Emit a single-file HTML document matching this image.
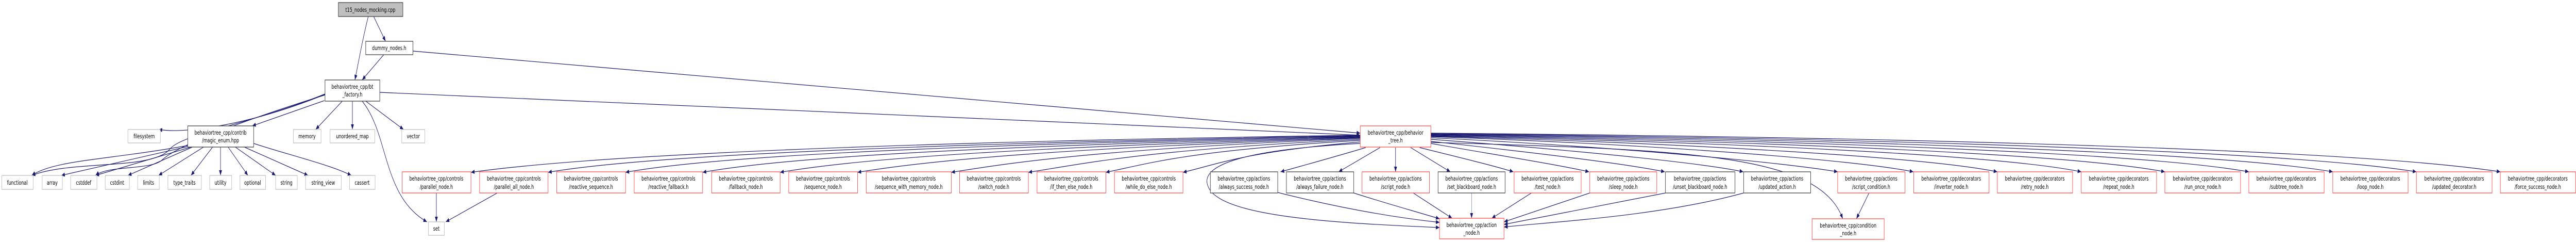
<!DOCTYPE html>
<html><head><meta charset="utf-8"><style>
html,body{margin:0;padding:0;background:#fff;width:100%;height:100%;overflow:hidden;}
svg{display:block;width:100vw;height:100vh;}
text{font-family:"DejaVu Sans","Liberation Sans",sans-serif;font-size:11.5px;fill:#000;text-anchor:middle;}
.e{fill:none;stroke:#191970;stroke-width:1.2;}
.r{fill:#fff;stroke:#ff4d4d;stroke-width:1.3;}
.b{fill:#fff;stroke:#404040;stroke-width:1.3;}
.g{fill:#fff;stroke:#bfbfbf;stroke-width:1.3;}
</style></head><body>
<svg viewBox="0 0 7149 469" preserveAspectRatio="none" xmlns="http://www.w3.org/2000/svg">
<defs><marker id="a" markerUnits="userSpaceOnUse" markerWidth="10" markerHeight="8" refX="10" refY="4" orient="auto"><path d="M0,0 L10,4 L0,8z" fill="#191970"/></marker></defs>
<g marker-end="url(#a)">
<path class="e" d="M1037,32 L1070,80"/>
<path class="e" d="M1022,32 C1005,80 995,120 985,155"/>
<path class="e" d="M1065,106 L1005,155"/>
<path class="e" d="M1146,99 L3775,258"/>
<path class="e" d="M1054,179 L3775,262"/>
<path class="e" d="M902,183 C700,240 520,260 440,251"/>
<path class="e" d="M900,195 L700,244"/>
<path class="e" d="M950,196 L876,251"/>
<path class="e" d="M978,196 L978,251"/>
<path class="e" d="M1015,196 L1120,251"/>
<path class="e" d="M1005,196 C1080,260 1060,380 1185,430"/>
<path class="e" d="M902,182 C700,240 500,260 470,290 C420,330 200,310 88,340"/>
<path class="e" d="M902,184 C600,250 480,290 450,310 C420,330 300,320 265,340"/>
<path class="e" d="M521,282 C300,310 150,310 88,340"/>
<path class="e" d="M521,284 L170,340"/>
<path class="e" d="M530,285 L265,340"/>
<path class="e" d="M534,285 L355,340"/>
<path class="e" d="M565,285 L440,340"/>
<path class="e" d="M590,285 L530,340"/>
<path class="e" d="M612,285 L612,340"/>
<path class="e" d="M633,285 L688,340"/>
<path class="e" d="M653,285 L765,340"/>
<path class="e" d="M678,285 L855,340"/>
<path class="e" d="M704,278 C800,300 920,320 975,340"/>
<path class="e" d="M1211,374 L1211,430"/>
<path class="e" d="M1380,374 L1237,430"/>
<path class="e" d="M3775,262 C2500,275 1650,300 1307,334"/>
<path class="e" d="M3775,263 C2600,278 1800,300 1521,334"/>
<path class="e" d="M3775,264 C2700,280 2000,300 1736,334"/>
<path class="e" d="M3775,265 C2800,282 2200,302 1950,334"/>
<path class="e" d="M3775,266 C2900,284 2400,305 2165,334"/>
<path class="e" d="M3775,267 C3000,286 2600,308 2380,334"/>
<path class="e" d="M3775,268 C3100,288 2850,310 2640,334"/>
<path class="e" d="M3775,270 C3200,290 3050,312 2854,334"/>
<path class="e" d="M3775,272 C3300,292 3200,315 3069,334"/>
<path class="e" d="M3775,275 C3450,295 3380,318 3283,334"/>
<path class="e" d="M3790,286 C3700,305 3620,320 3554,333"/>
<path class="e" d="M3830,286 L3715,333"/>
<path class="e" d="M3873,286 L3873,333"/>
<path class="e" d="M3915,286 L4025,333"/>
<path class="e" d="M3940,286 C4050,305 4150,322 4200,333"/>
<path class="e" d="M3971,278 C4150,300 4330,320 4410,333"/>
<path class="e" d="M3971,274 C4250,295 4520,318 4620,333"/>
<path class="e" d="M3971,270 C4350,290 4720,315 4838,333"/>
<path class="e" d="M3971,267 C4500,285 4950,315 5100,333"/>
<path class="e" d="M3971,265 C4600,280 5150,310 5310,333"/>
<path class="e" d="M3971,264 C4700,278 5350,305 5543,333"/>
<path class="e" d="M3971,263 C4800,276 5550,300 5776,333"/>
<path class="e" d="M3971,262 C4900,274 5750,298 6008,333"/>
<path class="e" d="M3971,261 C5000,272 5950,296 6241,333"/>
<path class="e" d="M3971,260 C5100,270 6150,294 6474,333"/>
<path class="e" d="M3971,259 C5200,268 6350,292 6706,333"/>
<path class="e" d="M3971,258 C5300,266 6550,290 6939,333"/>
<path class="e" d="M3971,276 C4700,290 5050,300 5114,424"/>
<path class="e" d="M3775,278 C3450,290 3330,320 3352,360 C3380,420 3700,432 3995,441"/>
<path class="e" d="M3546,373 C3700,400 3850,420 3995,431"/>
<path class="e" d="M3757,374 C3850,395 3930,410 3995,424"/>
<path class="e" d="M3922,374 L4030,423"/>
<path class="e" d="M4084,374 L4084,423" style="stroke-width:0.6"/>
<path class="e" d="M4250,374 L4140,423"/>
<path class="e" d="M4412,374 L4174,430"/>
<path class="e" d="M4622,374 L4174,435"/>
<path class="e" d="M4839,374 C4600,420 4300,430 4174,440"/>
<path class="e" d="M5187,374 L5152,424"/>
</g>
<rect x="939" y="5" width="179" height="27" fill="#bfbfbf" stroke="#404040" stroke-width="1.3"/><text x="1028" y="23">t15_nodes_mocking.cpp</text>
<rect class="b" x="1015" y="80" width="131" height="26"/><text x="1080" y="97">dummy_nodes.h</text>
<rect class="b" x="902" y="155" width="152" height="41"/><text x="978" y="172">behaviortree_cpp/bt</text><text x="978" y="187">_factory.h</text>
<rect class="g" x="355" y="251" width="90" height="26"/><text x="400" y="268">filesystem</text>
<rect class="b" x="521" y="244" width="183" height="41"/><text x="612" y="261">behaviortree_cpp/contrib</text><text x="612" y="276">/magic_enum.hpp</text>
<rect class="g" x="814" y="251" width="77" height="26"/><text x="852" y="268">memory</text>
<rect class="g" x="916" y="251" width="124" height="26"/><text x="978" y="268">unordered_map</text>
<rect class="g" x="1115" y="251" width="64" height="26"/><text x="1147" y="268">vector</text>
<rect class="g" x="5" y="340" width="87" height="27"/><text x="48" y="358">functional</text>
<rect class="g" x="117" y="340" width="56" height="27"/><text x="145" y="358">array</text>
<rect class="g" x="196" y="340" width="73" height="27"/><text x="232" y="358">cstddef</text>
<rect class="g" x="292" y="340" width="67" height="27"/><text x="325" y="358">cstdint</text>
<rect class="g" x="382" y="340" width="60" height="27"/><text x="412" y="358">limits</text>
<rect class="g" x="466" y="340" width="93" height="27"/><text x="512" y="358">type_traits</text>
<rect class="g" x="582" y="340" width="61" height="27"/><text x="612" y="358">utility</text>
<rect class="g" x="666" y="340" width="71" height="27"/><text x="701" y="358">optional</text>
<rect class="g" x="765" y="340" width="60" height="27"/><text x="795" y="358">string</text>
<rect class="g" x="848" y="340" width="99" height="27"/><text x="897" y="358">string_view</text>
<rect class="g" x="970" y="340" width="71" height="27"/><text x="1005" y="358">cassert</text>
<rect class="g" x="1189" y="430" width="44" height="26"/><text x="1211" y="447">set</text>
<rect class="r" x="3775" y="244" width="196" height="41"/><text x="3873" y="261">behaviortree_cpp/behavior</text><text x="3873" y="276">_tree.h</text>
<rect class="r" x="1116" y="333" width="191" height="41"/><text x="1211" y="350">behaviortree_cpp/controls</text><text x="1211" y="366">/parallel_node.h</text>
<rect class="r" x="1331" y="333" width="190" height="41"/><text x="1426" y="350">behaviortree_cpp/controls</text><text x="1426" y="366">/parallel_all_node.h</text>
<rect class="r" x="1545" y="333" width="191" height="41"/><text x="1640" y="350">behaviortree_cpp/controls</text><text x="1640" y="366">/reactive_sequence.h</text>
<rect class="r" x="1760" y="333" width="190" height="41"/><text x="1855" y="350">behaviortree_cpp/controls</text><text x="1855" y="366">/reactive_fallback.h</text>
<rect class="r" x="1975" y="333" width="190" height="41"/><text x="2070" y="350">behaviortree_cpp/controls</text><text x="2070" y="366">/fallback_node.h</text>
<rect class="r" x="2189" y="333" width="191" height="41"/><text x="2284" y="350">behaviortree_cpp/controls</text><text x="2284" y="366">/sequence_node.h</text>
<rect class="r" x="2404" y="333" width="236" height="41"/><text x="2522" y="350">behaviortree_cpp/controls</text><text x="2522" y="366">/sequence_with_memory_node.h</text>
<rect class="r" x="2663" y="333" width="191" height="41"/><text x="2758" y="350">behaviortree_cpp/controls</text><text x="2758" y="366">/switch_node.h</text>
<rect class="r" x="2878" y="333" width="191" height="41"/><text x="2973" y="350">behaviortree_cpp/controls</text><text x="2973" y="366">/if_then_else_node.h</text>
<rect class="r" x="3093" y="333" width="190" height="41"/><text x="3188" y="350">behaviortree_cpp/controls</text><text x="3188" y="366">/while_do_else_node.h</text>
<rect class="b" x="3359" y="333" width="187" height="41"/><text x="3452" y="350">behaviortree_cpp/actions</text><text x="3452" y="366">/always_success_node.h</text>
<rect class="b" x="3570" y="333" width="187" height="41"/><text x="3663" y="350">behaviortree_cpp/actions</text><text x="3663" y="366">/always_failure_node.h</text>
<rect class="r" x="3780" y="333" width="187" height="41"/><text x="3873" y="350">behaviortree_cpp/actions</text><text x="3873" y="366">/script_node.h</text>
<rect class="b" x="3991" y="333" width="186" height="41"/><text x="4084" y="350">behaviortree_cpp/actions</text><text x="4084" y="366">/set_blackboard_node.h</text>
<rect class="r" x="4202" y="333" width="186" height="41"/><text x="4295" y="350">behaviortree_cpp/actions</text><text x="4295" y="366">/test_node.h</text>
<rect class="r" x="4412" y="333" width="186" height="41"/><text x="4505" y="350">behaviortree_cpp/actions</text><text x="4505" y="366">/sleep_node.h</text>
<rect class="b" x="4622" y="333" width="193" height="41"/><text x="4718" y="350">behaviortree_cpp/actions</text><text x="4718" y="366">/unset_blackboard_node.h</text>
<rect class="b" x="4839" y="333" width="186" height="41"/><text x="4932" y="350">behaviortree_cpp/actions</text><text x="4932" y="366">/updated_action.h</text>
<rect class="r" x="5100" y="333" width="187" height="41"/><text x="5193" y="350">behaviortree_cpp/actions</text><text x="5193" y="366">/script_condition.h</text>
<rect class="r" x="5311" y="333" width="209" height="41"/><text x="5415" y="350">behaviortree_cpp/decorators</text><text x="5415" y="366">/inverter_node.h</text>
<rect class="r" x="5543" y="333" width="209" height="41"/><text x="5647" y="350">behaviortree_cpp/decorators</text><text x="5647" y="366">/retry_node.h</text>
<rect class="r" x="5776" y="333" width="209" height="41"/><text x="5880" y="350">behaviortree_cpp/decorators</text><text x="5880" y="366">/repeat_node.h</text>
<rect class="r" x="6008" y="333" width="210" height="41"/><text x="6113" y="350">behaviortree_cpp/decorators</text><text x="6113" y="366">/run_once_node.h</text>
<rect class="r" x="6241" y="333" width="209" height="41"/><text x="6345" y="350">behaviortree_cpp/decorators</text><text x="6345" y="366">/subtree_node.h</text>
<rect class="r" x="6474" y="333" width="209" height="41"/><text x="6578" y="350">behaviortree_cpp/decorators</text><text x="6578" y="366">/loop_node.h</text>
<rect class="r" x="6706" y="333" width="210" height="41"/><text x="6811" y="350">behaviortree_cpp/decorators</text><text x="6811" y="366">/updated_decorator.h</text>
<rect class="r" x="6939" y="333" width="209" height="41"/><text x="7043" y="350">behaviortree_cpp/decorators</text><text x="7043" y="366">/force_success_node.h</text>
<rect class="r" x="3995" y="423" width="179" height="40"/><text x="4084" y="440">behaviortree_cpp/action</text><text x="4084" y="455">_node.h</text>
<rect class="r" x="5029" y="424" width="200" height="40"/><text x="5129" y="441">behaviortree_cpp/condition</text><text x="5129" y="456">_node.h</text>
</svg>
</body></html>
